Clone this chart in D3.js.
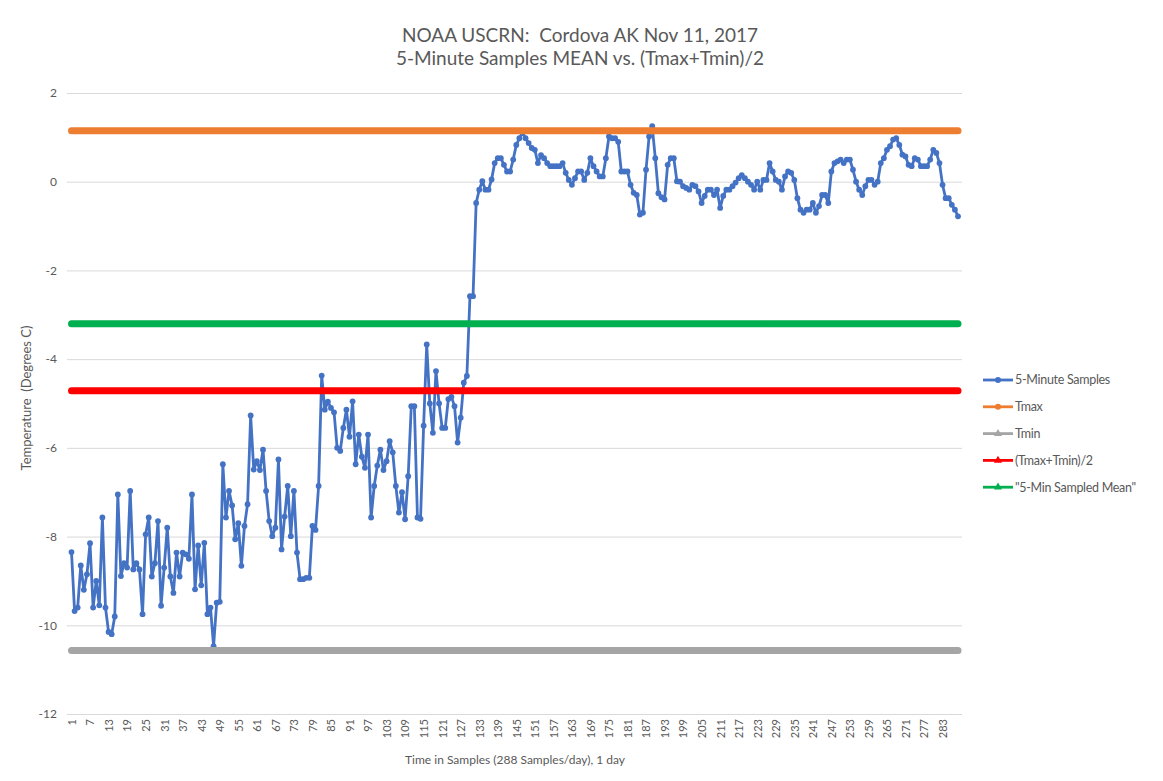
<!DOCTYPE html>
<html>
<head>
<meta charset="utf-8">
<script src="https://cdn.jsdelivr.net/npm/d3@7"></script>
<style>
  body { margin: 0; background: #fff; }
  svg { font-family: Lato, "Open Sans", sans-serif; }
  svg text { white-space: pre; }
</style>
</head>
<body>
<div id="chart"></div>
<script>
// 5-minute samples, degrees C (288 per day)
const samples = [
  -8.35, -9.68, -9.6, -8.65, -9.2, -8.85, -8.15, -9.6, -9.0, -9.55,
  -7.57, -9.6, -10.15, -10.2, -9.8, -7.05, -8.89, -8.6, -8.7, -6.97,
  -8.74, -8.6, -8.74, -9.75, -7.95, -7.57, -8.9, -8.6, -7.65, -9.56,
  -8.7, -7.8, -8.9, -9.27, -8.36, -8.9, -8.36, -8.4, -8.5, -7.05,
  -9.19, -8.2, -9.1, -8.14, -9.75, -9.6, -10.47, -9.49, -9.47, -6.37,
  -7.57, -6.97, -7.3, -8.06, -7.7, -8.66, -7.76, -7.27, -5.27, -6.49,
  -6.3, -6.5, -6.04, -6.97, -7.65, -7.99, -7.8, -6.26, -8.29, -7.55,
  -6.86, -7.99, -6.97, -8.36, -8.96, -8.96, -8.93, -8.93, -7.76, -7.85,
  -6.86, -4.37, -5.14, -4.96, -5.1, -5.2, -6.0, -6.07, -5.55, -5.14,
  -5.75, -4.95, -6.37, -5.7, -6.2, -6.45, -5.7, -7.57, -6.86, -6.4,
  -6.04, -6.5, -6.3, -5.85, -6.1, -6.86, -7.46, -7.0, -7.61, -6.64,
  -5.06, -5.06, -7.57, -7.6, -5.5, -3.67, -5.0, -5.66, -4.27, -5.0,
  -5.55, -5.55, -4.9, -4.85, -5.06, -5.88, -5.32, -4.53, -4.38, -2.58,
  -2.58, -0.48, -0.18, 0.01, -0.18, -0.18, 0.05, 0.42, 0.53, 0.53,
  0.38, 0.23, 0.23, 0.5, 0.83, 0.98, 1.1, 0.98, 0.87, 0.76,
  0.72, 0.42, 0.6, 0.53, 0.42, 0.35, 0.35, 0.35, 0.35, 0.42,
  0.2, 0.04, -0.07, 0.08, 0.23, 0.23, 0.04, 0.2, 0.53, 0.35,
  0.23, 0.12, 0.12, 0.53, 1.02, 0.98, 0.98, 0.9, 0.23, 0.23,
  0.23, -0.07, -0.25, -0.3, -0.74, -0.7, 0.27, 1.02, 1.25, 0.53,
  -0.26, -0.35, -0.4, 0.38, 0.53, 0.53, 0.01, 0.0, -0.1, -0.14,
  -0.18, -0.07, -0.1, -0.22, -0.48, -0.32, -0.18, -0.18, -0.3, -0.18,
  -0.59, -0.32, -0.18, -0.18, -0.1, -0.02, 0.08, 0.15, 0.08, 0.0,
  -0.07, -0.18, 0.0, -0.18, 0.04, 0.04, 0.42, 0.23, 0.04, 0.0,
  -0.18, 0.12, 0.23, 0.2, 0.04, -0.37, -0.63, -0.7, -0.63, -0.63,
  -0.48, -0.7, -0.55, -0.3, -0.3, -0.48, 0.23, 0.42, 0.46, 0.5,
  0.42, 0.5, 0.5, 0.27, 0.0, -0.18, -0.3, -0.1, 0.04, 0.04,
  -0.07, 0.0, 0.42, 0.53, 0.72, 0.8, 0.95, 0.98, 0.83, 0.61,
  0.57, 0.38, 0.35, 0.53, 0.5, 0.35, 0.35, 0.35, 0.5, 0.72,
  0.65, 0.42, -0.07, -0.37, -0.37, -0.52, -0.63, -0.78
];
const sampleIds = d3.range(1, samples.length + 1);

// constant reference series
const refNames = ['Tmax', 'Tmin', '(Tmax+Tmin)/2', '"5-Min Sampled Mean"'];
const refValues = [1.15, -10.57, -4.71, -3.2];
const refColors = ['#ED7D31', '#A5A5A5', '#FF0000', '#00B050'];

const yTicks = [-12, -10, -8, -6, -4, -2, 0, 2];
const xTickLabels = d3.range(1, 288, 6);

const legendNames = ['5-Minute Samples'].concat(refNames);
const legendColors = ['#4472C4'].concat(refColors);
const legendMarkers = ['circle', 'circle', 'triangle', 'triangle', 'triangle'];

const W = 1163, H = 781;
const TEXT = '#595959';
const svg = d3.select('#chart').append('svg').attr('width', W).attr('height', H);

const xScale = d3.scalePoint().domain(sampleIds).range([71.5, 958]);
const yScale = d3.scaleLinear().domain([-12, 2]).range([714, 93]);

// Title
svg.append('text')
    .attr('x', 580).attr('y', 42)
    .attr('text-anchor', 'middle').attr('font-size', 19).attr('fill', TEXT)
    .text('NOAA USCRN:  Cordova AK Nov 11, 2017');
svg.append('text')
    .attr('x', 580).attr('y', 65)
    .attr('text-anchor', 'middle').attr('font-size', 19).attr('fill', TEXT)
    .text('5-Minute Samples MEAN vs. (Tmax+Tmin)/2');

// Gridlines + y labels
const yAxis = d3.axisLeft(yScale)
    .tickValues(yTicks)
    .tickSize(-(962 - 67))
    .tickPadding(10)
    .tickFormat(d => String(d));
svg.append('g')
    .attr('transform', 'translate(67,0)')
    .call(yAxis)
    .call(g => g.select('.domain').remove())
    .call(g => g.selectAll('line').attr('stroke', '#D9D9D9'))
    .call(g => g.selectAll('text').attr('fill', TEXT).attr('font-size', 12)
        .attr('font-family', 'Lato, sans-serif'));

// x labels, rotated
const xAxis = d3.axisBottom(xScale)
    .tickValues(xTickLabels)
    .tickSize(0);
svg.append('g')
    .attr('transform', 'translate(0,714)')
    .call(xAxis)
    .call(g => g.select('.domain').remove())
    .call(g => g.selectAll('text')
        .attr('fill', TEXT).attr('font-size', 11)
        .attr('font-family', 'Lato, sans-serif')
        .attr('text-anchor', 'end')
        .attr('transform', 'rotate(-90)')
        .attr('x', -5).attr('y', 0).attr('dy', '0.35em'));

// Axis titles
svg.append('text')
    .attr('transform', 'translate(31,398) rotate(-90)')
    .attr('text-anchor', 'middle').attr('font-size', 13).attr('fill', TEXT)
    .text('Temperature  (Degrees C)');
svg.append('text')
    .attr('x', 515).attr('y', 764)
    .attr('text-anchor', 'middle').attr('font-size', 12).attr('fill', TEXT)
    .text('Time in Samples (288 Samples/day), 1 day');

// Samples line
const line = d3.line()
    .x((d, i) => xScale(sampleIds[i]))
    .y(d => yScale(d));
svg.append('path')
    .datum(samples)
    .attr('fill', 'none')
    .attr('stroke', '#4472C4')
    .attr('stroke-width', 2.8)
    .attr('stroke-linejoin', 'round')
    .attr('d', line);
svg.append('g')
    .selectAll('circle')
    .data(samples)
    .join('circle')
    .attr('cx', (d, i) => xScale(sampleIds[i]))
    .attr('cy', d => yScale(d))
    .attr('r', 2.9)
    .attr('fill', '#4472C4');

// Constant lines on top
svg.append('g')
    .selectAll('line')
    .data(refValues)
    .join('line')
    .attr('x1', xScale(1))
    .attr('x2', xScale(288))
    .attr('y1', d => yScale(d))
    .attr('y2', d => yScale(d))
    .attr('stroke', (d, i) => refColors[i])
    .attr('stroke-width', 7)
    .attr('stroke-linecap', 'round');

// Legend
const legend = svg.append('g').attr('transform', 'translate(983,380)');
const rows = legend.selectAll('g')
    .data(legendNames)
    .join('g')
    .attr('transform', (d, i) => `translate(0,${i * 26.8})`);
rows.append('line')
    .attr('x1', 0).attr('x2', 30)
    .attr('stroke', (d, i) => legendColors[i])
    .attr('stroke-width', 2.8);
rows.append('path')
    .attr('transform', 'translate(15,0)')
    .attr('d', (d, i) => d3.symbol()
        .type(legendMarkers[i] === 'circle' ? d3.symbolCircle : d3.symbolTriangle)
        .size(28)())
    .attr('fill', (d, i) => legendColors[i]);
rows.append('text')
    .attr('x', 32).attr('dy', '0.35em')
    .attr('font-size', 12.5).attr('fill', TEXT)
    .attr('letter-spacing', -0.3)
    .text(d => d);
</script>
</body>
</html>
